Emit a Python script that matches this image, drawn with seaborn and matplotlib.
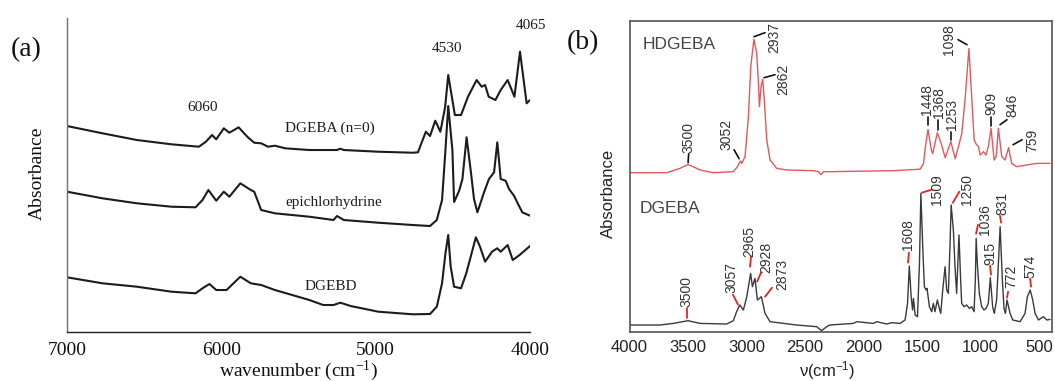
import matplotlib
matplotlib.use("Agg")
import matplotlib.pyplot as plt
from matplotlib.ticker import MultipleLocator, FixedLocator
import seaborn as sns

# ---------------- (a) NIR spectra (wavenumber, absorbance a.u.) ----------------
a_dgeba_wn = [7000, 6770, 6547, 6323, 6145, 6100, 6060, 6033, 5984, 5948, 5888, 5832,
              5787, 5742, 5698, 5653, 5586, 5430, 5251, 5229, 5206, 4983, 4760, 4726,
              4704, 4675, 4648, 4614, 4581, 4550, 4530, 4487, 4447, 4402, 4346, 4313,
              4291, 4268, 4224, 4190, 4145, 4101, 4065, 4022, 4000]
a_dgeba_abs = [206, 198.7, 192, 187.7, 185.3, 190.3, 197, 192.7, 203.7, 199.3, 204.7, 195.3,
               189.3, 188.7, 185.3, 186.3, 183.7, 182, 182, 183.3, 182, 180.3, 179.3, 179.7,
               188.7, 200.3, 196, 211.3, 200.3, 225, 257, 217, 217, 235.3, 252, 245.3,
               247, 235.3, 232, 242, 252, 235.3, 280.3, 228.7, 232]

a_epi_wn = [7000, 6770, 6547, 6323, 6167, 6122, 6084, 6033, 5984, 5948, 5877, 5809,
            5787, 5742, 5653, 5430, 5273, 5251, 5206, 4983, 4760, 4648, 4604, 4570,
            4548, 4530, 4503, 4492, 4459, 4438, 4411, 4383, 4363, 4341, 4298, 4266,
            4233, 4212, 4190, 4158, 4136, 4104, 4072, 4050, 4000]
a_epi_abs = [140.3, 133.7, 128.7, 125.3, 124.7, 132, 142, 131.3, 140.3, 135.3, 148.7, 142,
             140.3, 122, 118.7, 115.3, 112, 116, 112, 109.3, 107, 106, 112, 132,
             182, 226, 182, 130, 141.3, 153, 194.7, 159.7, 133, 119.7, 139.7, 153,
             159.7, 189.7, 153, 151.3, 143, 136.3, 126.3, 119.7, 116.3]

a_dgebd_wn = [7000, 6770, 6547, 6323, 6167, 6122, 6077, 6033, 5966, 5877, 5809, 5742,
              5653, 5541, 5430, 5340, 5273, 5229, 5162, 4983, 4760, 4648, 4604, 4570,
              4548, 4530, 4514, 4492, 4447, 4413, 4351, 4324, 4291, 4246, 4213, 4190,
              4145, 4112, 4068, 4000]
a_dgebd_abs = [54.7, 48.7, 45.3, 40.3, 38.7, 43.7, 48, 42, 42, 55.3, 48.7, 47,
               42, 37, 32, 27, 27, 29.3, 26, 20.3, 17.7, 18, 25.3, 48.7,
               78.7, 97, 65.3, 45.3, 43.7, 58.7, 94.7, 85.3, 70.3, 80.3, 83.7, 80.3,
               87, 72, 77, 86]

a_series_names = ["DGEBA (n=0)", "epichlorhydrine", "DGEBD"]
a_peak_labels = ["6060", "4530", "4065"]

# ---------------- (b) FTIR spectra (wavenumber, absorbance a.u.) ----------------
b_hd_wn = [4000, 3682, 3569, 3500, 3398, 3284, 3113, 3078, 3052, 3041, 3013, 2984, 2964,
           2937, 2913, 2898, 2890, 2876, 2862, 2848, 2827, 2799, 2742, 2656, 2428, 2385,
           2365, 2342, 2285, 2030, 1744, 1516, 1487, 1470, 1448, 1420, 1408, 1368, 1335,
           1301, 1253, 1215, 1159, 1131, 1098, 1073, 1053, 1037, 1016, 1002, 974, 952,
           932, 909, 882, 865, 846, 817, 788, 759, 732, 689, 603, 518, 404]
b_hd_abs = [159, 159, 163.3, 167.3, 161.7, 159, 160, 165, 170.7, 168.3, 175, 215, 265,
            292.3, 278.3, 248.3, 225, 245, 252.3, 231.7, 191.7, 171.7, 163.3, 161.7, 161, 160,
            157, 160, 160, 160.5, 161, 162.5, 168, 185, 202.3, 182, 178, 199, 188,
            174, 190, 173, 198, 232, 283.3, 232, 191.7, 187.7, 185, 176.7, 180, 176.7,
            185, 203.3, 171.7, 175, 203.3, 175, 171.7, 184, 168.3, 165, 166.7, 168.3, 168.3]

b_dg_wn = [4000, 3739, 3626, 3500, 3398, 3170, 3113, 3085, 3057, 3027, 2998, 2965, 2950,
           2928, 2907, 2873, 2842, 2799, 2571, 2400, 2358, 2315, 2286, 2086, 2057, 1915,
           1887, 1801, 1758, 1687, 1644, 1623, 1608, 1592, 1580, 1572, 1558, 1538, 1521,
           1509, 1493, 1479, 1465, 1456, 1436, 1416, 1402, 1388, 1368, 1351, 1339, 1322,
           1302, 1288, 1274, 1260, 1250, 1231, 1217, 1203, 1194, 1183, 1171, 1160, 1140,
           1117, 1094, 1074, 1054, 1043, 1036, 1026, 1009, 989, 969, 952, 932, 915, 895,
           881, 861, 843, 831, 812, 798, 786, 772, 746, 723, 660, 618, 598, 574, 552,
           532, 503, 461, 432, 404]
b_dg_abs = [6.7, 6.7, 8.3, 11, 8.3, 7.7, 11, 20, 26.7, 21.7, 35, 58.3, 45,
            53.3, 31.7, 35, 18.3, 10, 6.7, 5, 1, 5, 6.7, 8.3, 10, 8.3,
            10, 7.7, 9, 8.3, 11.7, 28.3, 65.7, 35, 21.7, 33.3, 16.7, 15, 68.3,
            138.3, 85, 45, 41.7, 43.3, 25, 20, 28.3, 20, 31.7, 23.3, 18.3, 41.7,
            65, 41.7, 38.3, 85, 126.7, 101.7, 65, 38.3, 65, 96.7, 58.3, 28.3, 25,
            26.7, 23.3, 25, 20, 51.7, 93.3, 68.3, 38.3, 25, 21.7, 23.3, 28.3, 54, 25,
            18.3, 31.7, 75, 105, 51.7, 23.3, 18.3, 31.7, 18.3, 11.7, 10, 18.3, 35, 41.7, 31.7,
            18.3, 11.7, 15, 11.7, 12.3]

b_hd_labels = ["3500", "3052", "2937", "2862", "1448", "1368", "1253", "1098", "909", "846", "759"]
b_dg_labels = ["3500", "3057", "2965", "2928", "2873", "1608", "1509", "1250", "1036",
               "915", "831", "772", "574"]

# label layout: (text x, text bottom y, leader x0, y0, x1, y1)
hd_layout = [(3496, 179, 3500, 169, 3495, 178), (3171, 182, 3064, 173, 3107, 182),
             (2761, 279, 2936, 295, 2842, 299), (2684, 237, 2850, 254, 2756, 257),
             (1455, 217, 1452, 207, 1452, 215), (1350, 214, 1360, 202, 1360, 212),
             (1242, 202, 1251, 192, 1251, 200), (1272, 277, 1191, 292, 1114, 287),
             (909, 217, 909, 206, 909, 215), (725, 215, 832, 207, 772, 212),
             (554, 180, 720, 187, 643, 192)]
dg_layout = [(3518, 25, 3505, 14, 3505, 24), (3133, 39, 3073, 27, 3116, 37),
             (2979, 75, 2970, 65, 2962, 75), (2833, 59, 2910, 50, 2876, 59),
             (2692, 42, 2842, 35, 2782, 44), (1619, 82, 1619, 69, 1611, 79),
             (1370, 127, 1501, 139, 1416, 142), (1114, 127, 1236, 129, 1180, 140),
             (960, 97, 1037, 98, 1020, 107), (913, 67, 909, 57, 917, 66),
             (810, 117, 823, 109, 832, 116), (733, 44, 772, 34, 763, 40),
             (575, 54, 566, 45, 575, 53)]

sns.set_style("white")
plt.rcParams["font.family"] = ["Liberation Serif", "DejaVu Serif"]
plt.rcParams["mathtext.default"] = "regular"

fig = plt.figure(figsize=(10.55, 3.81), dpi=100)

# ---------------- panel (a) ----------------
ax_a = fig.add_axes([0.0635, 0.1286, 0.4389, 0.8241])
ink = "#1c1c1c"
for wn, ab in [(a_dgeba_wn, a_dgeba_abs), (a_epi_wn, a_epi_abs), (a_dgebd_wn, a_dgebd_abs)]:
    sns.lineplot(x=wn, y=ab, ax=ax_a, color=ink, lw=1.5, sort=False, estimator=None)
ax_a.set_xlim(7000, 4000)
ax_a.set_ylim(0, 314)
ax_a.xaxis.set_major_locator(FixedLocator([7000, 6000, 5000, 4000]))
ax_a.xaxis.set_minor_locator(FixedLocator([6500, 5500, 4500]))
ax_a.set_yticks([])
for s in ["top", "right"]:
    ax_a.spines[s].set_visible(False)
ax_a.spines["left"].set_color("#707070")
ax_a.spines["left"].set_linewidth(1.0)
ax_a.spines["bottom"].set_color("#222222")
ax_a.spines["bottom"].set_linewidth(1.0)
ax_a.tick_params(axis="x", which="major", direction="out", length=5, width=1,
                 color="#222222", labelsize=14, pad=2, labelcolor="#111111")
ax_a.tick_params(axis="x", which="minor", direction="out", length=3, width=1, color="#222222")
ax_a.set_xlabel("wavenumber (cm$^{-1}$)", fontsize=14, color="#111111")
ax_a.xaxis.set_label_coords(0.5, -0.085)
ax_a.set_ylabel("Absorbance", fontsize=14, color="#111111")
ax_a.yaxis.set_label_coords(-0.045, 0.506)

for txt, (x, y) in zip(a_series_names, [(5298, 204), (5270, 130), (5292, 46)]):
    ax_a.text(x, y, txt, fontsize=11, ha="center", va="center", color=ink)
for txt, (x, y) in zip(a_peak_labels, [(6119, 225), (4537, 284), (3993, 307)]):
    ax_a.text(x, y, txt, fontsize=11, ha="center", va="center", color=ink, clip_on=False)

fig.text(0.0246, 0.869, "(a)", fontsize=20, ha="center", va="center", color="#111111")

# ---------------- panel (b) ----------------
sans = ["Liberation Sans", "DejaVu Sans"]
ax_b = fig.add_axes([0.5968, 0.1294, 0.4004, 0.8163])
red = "#e5575a"
grey_line = "#3a3a3a"
sns.lineplot(x=b_hd_wn, y=b_hd_abs, ax=ax_b, color=red, lw=1.0, sort=False, estimator=None)
sns.lineplot(x=b_dg_wn, y=b_dg_abs, ax=ax_b, color=grey_line, lw=1.0, sort=False, estimator=None)
ax_b.set_xlim(4000, 387)
ax_b.set_ylim(0, 311)
ax_b.xaxis.set_major_locator(MultipleLocator(500))
ax_b.xaxis.set_minor_locator(MultipleLocator(250))
ax_b.set_yticks([])
for s in ax_b.spines.values():
    s.set_color("#555555")
    s.set_linewidth(1.2)
ax_b.tick_params(axis="x", which="major", direction="out", length=4, width=1.1,
                 color="#555555", labelsize=12, pad=2, labelcolor="#222222")
ax_b.tick_params(axis="x", which="minor", direction="out", length=2.5, width=1.0, color="#555555")
for lbl in ax_b.get_xticklabels():
    lbl.set_fontfamily(sans)
ax_b.set_xlabel("\u03bd(cm$^{-1}$)", fontsize=12, color="#222222", family=sans)
ax_b.xaxis.set_label_coords(0.467, -0.088)
ax_b.set_ylabel("Absorbance", fontsize=12, color="#222222", family=sans)
ax_b.yaxis.set_label_coords(-0.032, 0.446)

ax_b.text(3885, 287, "HDGEBA", fontsize=12.5, ha="left", va="center", color="#444444", family=sans)
ax_b.text(3911, 123, "DGEBA", fontsize=12.5, ha="left", va="center", color="#444444", family=sans)

for txt, (tx, ty, x0, y0, x1, y1) in zip(b_hd_labels, hd_layout):
    ax_b.plot([x0, x1], [y0, y1], color="#111111", lw=1.2)
    ax_b.text(tx, ty, txt, rotation=90, fontsize=10, ha="center", va="bottom",
              color="#333333", family=sans)
for txt, (tx, ty, x0, y0, x1, y1) in zip(b_dg_labels, dg_layout):
    ax_b.plot([x0, x1], [y0, y1], color="#e8231e", lw=1.3)
    ax_b.text(tx, ty, txt, rotation=90, fontsize=10, ha="center", va="bottom",
              color="#333333", family=sans)

fig.text(0.5526, 0.887, "(b)", fontsize=20, ha="center", va="center", color="#111111")

fig.savefig("out.png", dpi=100)
